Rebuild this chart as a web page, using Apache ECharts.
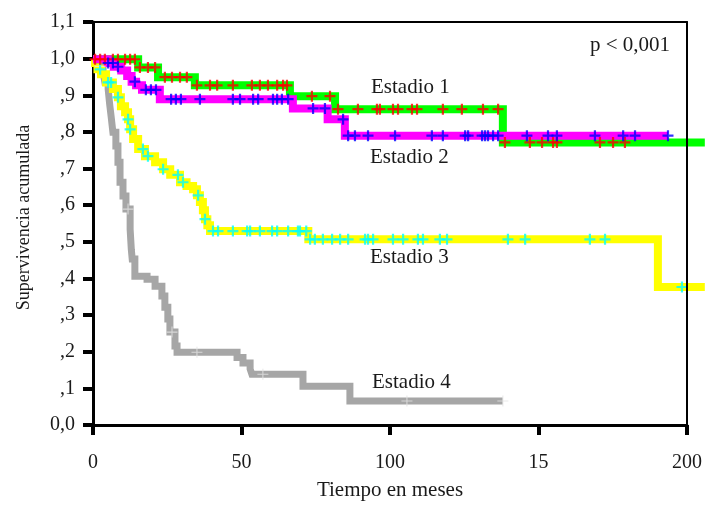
<!DOCTYPE html>
<html>
<head>
<meta charset="utf-8">
<script src="https://cdn.jsdelivr.net/npm/echarts@6/dist/echarts.min.js"></script>
<style>
html, body { margin: 0; padding: 0; background: #fff; }
#chart { width: 705px; height: 506px; }
</style>
</head>
<body>
<div id="chart"></div>
<script>
var xTickLabels = ['0', '50', '100', '15', '200'];
var yTickLabels = ['0,0', ',1', ',2', ',3', ',4', ',5', ',6', ',7', ',8', ',9', '1,0', '1,1'];

// Estadio 1 - step times (meses) and survival after each step
var est1Time = [0, 15.2, 21.9, 34.3, 66.3, 81.5, 138, 206];
var est1Surv = [1, 0.978, 0.952, 0.93, 0.901, 0.866, 0.777, 0.777];
var est1Cens = [0.7, 2.4, 4.0, 6.7, 8.4, 10.8, 12.5, 14.1, 15.8, 18.5, 20.9, 24.2, 26.6, 29.3, 31.6,
  35.0, 39.4, 41.8, 47.1, 53.5, 56.2, 58.9, 62.0, 64.0, 65.3, 73.7, 79.8, 82.5, 89.2, 95.6, 96.6,
  101, 102.7, 107.4, 109.1, 117.8, 124.2, 131.3, 136.4, 138.7, 147.1, 151.2, 154.9, 156.2, 170.7, 175.1, 179.1];

// Estadio 2
var est2Time = [0, 5, 7, 9.5, 11.5, 13, 14.5, 16.5, 22.5, 67.3, 79, 84.8, 193.6];
var est2Surv = [1, 0.99, 0.98, 0.97, 0.955, 0.94, 0.93, 0.918, 0.893, 0.868, 0.839, 0.795, 0.795];
var est2Cens = [5.1, 6.7, 8.4, 14.1, 17.8, 19.5, 21.2, 26.3, 27.9, 29.6, 36.0, 47.1, 49.5, 53.9, 55.6,
  60.6, 62.0, 63.6, 65.7, 74.1, 78.1, 84.2, 85.9, 88.2, 92.6, 101.7, 114.1, 117.8, 125.3, 126.3, 131.0,
  132.0, 133.0, 134.7, 136.4, 146.1, 153.2, 156.2, 169.0, 178.5, 182.5, 193.6];

// Estadio 3
var est3Time = [0, 0.7, 1.5, 2.7, 4.4, 6.7, 8.4, 9.4, 10.8, 11.8, 12.5, 13.5, 15.2, 17.5, 20.9, 23.6, 26,
  29.3, 31.5, 33.7, 35, 36, 37, 37.7, 38.5, 39.4, 72.5, 190.2, 206];
var est3Surv = [1, 0.99, 0.973, 0.96, 0.938, 0.92, 0.898, 0.874, 0.858, 0.839, 0.812, 0.786, 0.759, 0.74,
  0.724, 0.705, 0.69, 0.67, 0.66, 0.651, 0.635, 0.617, 0.595, 0.571, 0.555, 0.539, 0.517, 0.389, 0.389];
var est3Cens = [2.4, 5.1, 6.1, 8.4, 11.8, 12.5, 16.8, 18.5, 23.6, 28.6, 30.3, 35.4, 37.7, 40.4, 42.1,
  47.1, 51.9, 52.9, 56.2, 60.3, 62.0, 65.7, 69.0, 69.7, 71.8, 73.1, 74.7, 77.4, 80.5, 83.2, 85.9, 91.6,
  92.6, 94.3, 101.0, 104.4, 109.4, 111.1, 116.8, 119.2, 139.7, 145.5, 167.3, 172.4, 198.3];

// Estadio 4
var est4Time = [0, 1.5, 2.4, 3.4, 4.0, 5.1, 5.6, 6.1, 6.7, 7.7, 8.4, 9.1, 10.1, 11.1, 12.5, 12.9, 13.2,
  14.1, 18.2, 20.9, 23.2, 24.2, 25.2, 25.9, 27.6, 28.3, 48.5, 50.5, 52.9, 53.5, 70.7, 86.5, 138];
var est4Surv = [1, 0.99, 0.981, 0.965, 0.938, 0.92, 0.88, 0.847, 0.804, 0.767, 0.724, 0.67, 0.633, 0.598,
  0.544, 0.49, 0.464, 0.418, 0.41, 0.391, 0.365, 0.335, 0.303, 0.268, 0.231, 0.214, 0.2, 0.185, 0.169,
  0.155, 0.123, 0.083, 0.083];
var est4Cens = [2.4, 11.8, 26.6, 35, 57.2, 105.7, 138];

function pairs(times, surv) {
  return times.map(function (t, i) { return [t, surv[i]]; });
}
// survival value of the step curve at a censoring time
function censPoints(cens, times, surv) {
  return cens.map(function (t) {
    var k = 0;
    for (var i = 0; i < times.length; i++) { if (times[i] <= t) k = i; }
    return [t, surv[k]];
  });
}

// the curves run a little past the 200 frame, so they get their own wider grid
var plotLeft = 93, frameRight = 18, plotTop = 22, plotBottom = 74, W = 705;
var frameW = W - plotLeft - frameRight;
var curveXMax = 200 * (W - plotLeft) / frameW;

var plusBold = 'path://M4,0H6V4H10V6H6V10H4V6H0V4H4Z';
var plusThin = 'path://M4.5,0H5.5V4.5H10V5.5H5.5V10H4.5V5.5H0V4.5H4.5Z';
var serif = 'Liberation Serif';
var ink = '#1a1a1a';

function stepLine(name, times, surv, color, width) {
  return {
    name: name, type: 'line', step: 'end', data: pairs(times, surv),
    showSymbol: false, silent: true,
    lineStyle: { color: color, width: width, cap: 'butt', join: 'miter' }
  };
}
function marks(cens, times, surv, color, symbol) {
  return {
    type: 'scatter', data: censPoints(cens, times, surv), silent: true,
    symbol: symbol, symbolSize: 11, itemStyle: { color: color }, z: 4
  };
}

var myChart = echarts.init(document.getElementById('chart'));
var option = {
  backgroundColor: '#ffffff',
  animation: false,
  grid: [
    { left: plotLeft, right: 0, top: plotTop, bottom: plotBottom },
    { left: plotLeft, right: frameRight, top: plotTop, bottom: plotBottom }
  ],
  xAxis: [{
    gridIndex: 0, type: 'value', min: 0, max: curveXMax, show: false
  }, {
    gridIndex: 1, type: 'value', min: 0, max: 200, interval: 50,
    name: 'Tiempo en meses', nameLocation: 'middle', nameGap: 55,
    nameTextStyle: { fontFamily: serif, fontSize: 21, color: ink },
    axisLine: { lineStyle: { color: '#000', width: 3 } },
    axisTick: { show: true, length: 10, lineStyle: { color: '#000', width: 4 } },
    axisLabel: {
      margin: 28, fontFamily: serif, fontSize: 20, color: ink,
      formatter: function (v) { return xTickLabels[Math.round(v / 50)]; }
    },
    splitLine: { show: false }
  }, {
    gridIndex: 1, type: 'value', position: 'top', min: 0, max: 200,
    axisLine: { show: true, onZero: false, lineStyle: { color: '#000', width: 2 } },
    axisTick: { show: false }, axisLabel: { show: false }, splitLine: { show: false }
  }],
  yAxis: [{
    gridIndex: 0, type: 'value', min: 0, max: 1.1, show: false
  }, {
    gridIndex: 1, type: 'value', min: 0, max: 1.1, interval: 0.1,
    name: 'Supervivencia acumulada', nameLocation: 'middle', nameGap: 60,
    nameTextStyle: { fontFamily: serif, fontSize: 18, color: ink, padding: [0, 0, 0, 12] },
    axisLine: { show: true, lineStyle: { color: '#000', width: 3 } },
    axisTick: { show: true, length: 10, lineStyle: { color: '#000', width: 4 } },
    axisLabel: {
      margin: 18, fontFamily: serif, fontSize: 20, color: ink, padding: [0, 0, 12, 0],
      formatter: function (v) { return yTickLabels[Math.round(v * 10)]; }
    },
    splitLine: { show: false }
  }, {
    gridIndex: 1, type: 'value', position: 'right', min: 0, max: 1.1, z: 5,
    axisLine: { show: true, onZero: false, lineStyle: { color: '#000', width: 2 } },
    axisTick: { show: false }, axisLabel: { show: false }, splitLine: { show: false }
  }],
  graphic: [
    { type: 'text', left: 590, top: 35, style: { text: 'p < 0,001', font: '21px "Liberation Serif"', fill: ink } },
    { type: 'text', left: 371, top: 77, style: { text: 'Estadio 1', font: '21px "Liberation Serif"', fill: ink } },
    { type: 'text', left: 370, top: 147, style: { text: 'Estadio 2', font: '21px "Liberation Serif"', fill: ink } },
    { type: 'text', left: 370, top: 247, style: { text: 'Estadio 3', font: '21px "Liberation Serif"', fill: ink } },
    { type: 'text', left: 372, top: 372, style: { text: 'Estadio 4', font: '21px "Liberation Serif"', fill: ink } }
  ],
  series: [
    stepLine('Estadio 4', est4Time, est4Surv, '#a6a6a6', 7),
    stepLine('Estadio 3', est3Time, est3Surv, '#ffff00', 8),
    stepLine('Estadio 1', est1Time, est1Surv, '#00ff00', 8),
    stepLine('Estadio 2', est2Time, est2Surv, '#ff00ff', 8),
    marks(est4Cens, est4Time, est4Surv, '#e3e3e3', plusThin),
    marks(est3Cens, est3Time, est3Surv, '#00ffff', plusBold),
    marks(est1Cens, est1Time, est1Surv, '#ff0000', plusBold),
    marks(est2Cens, est2Time, est2Surv, '#0000ff', plusBold)
  ]
};

if (option && typeof option === 'object') {
  myChart.setOption(option);
}
window.onresize = function () { myChart.resize(); };
</script>
</body>
</html>
